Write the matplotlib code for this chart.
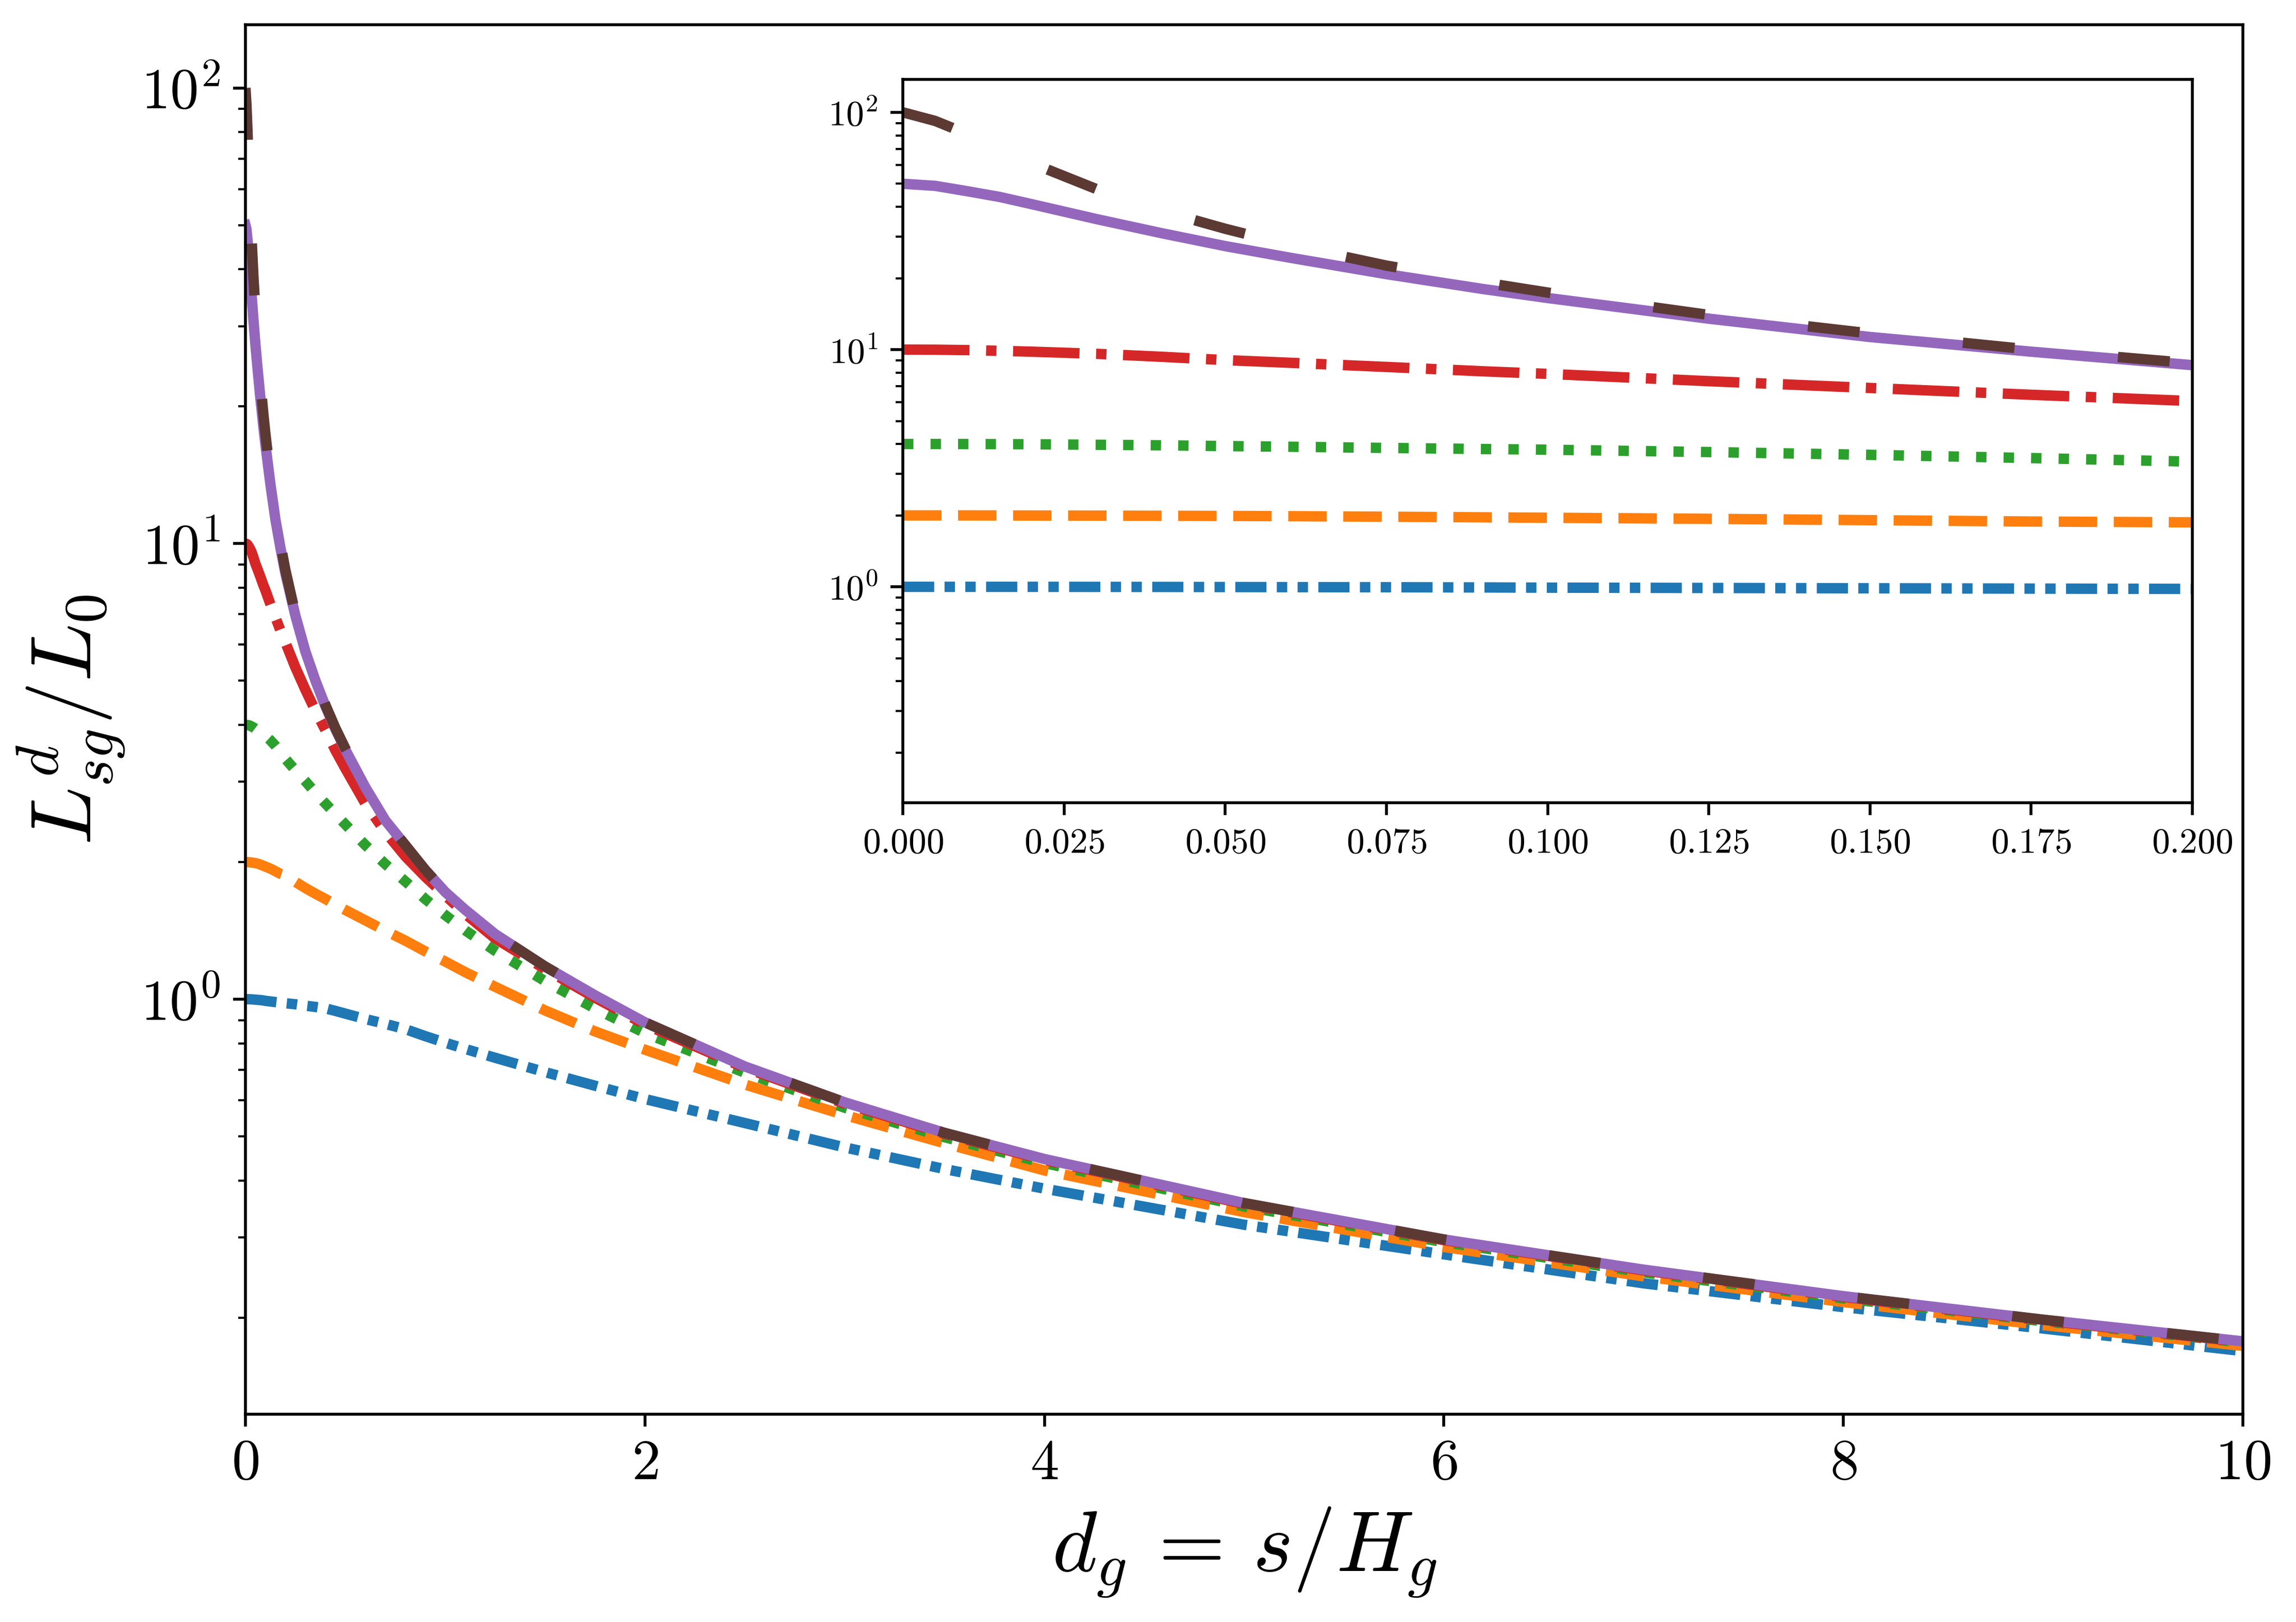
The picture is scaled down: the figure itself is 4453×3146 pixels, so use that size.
import matplotlib
matplotlib.use('agg')
import matplotlib.pyplot as plt

# values
d_g = [0.0, 0.005, 0.01, 0.015, 0.02, 0.03, 0.04, 0.05, 0.06, 0.075, 0.09, 0.1,
       0.125, 0.15, 0.175, 0.2, 0.25, 0.3, 0.35, 0.4, 0.45, 0.5, 0.6, 0.7, 0.8,
       0.9, 1.0, 1.1, 1.25, 1.5, 1.75, 2.0, 2.5, 3.0, 3.5, 4.0, 5.0, 6.0, 7.0,
       8.0, 9.0, 10.0]

L_1 = [1.0, 1.0, 1.0, 1.0, 1.0, 0.9995, 0.999, 0.998, 0.997, 0.996, 0.994, 0.992,
       0.989, 0.986, 0.983, 0.98, 0.975, 0.968, 0.962, 0.955, 0.943, 0.93, 0.905,
       0.883, 0.86, 0.83, 0.803, 0.778, 0.744, 0.692, 0.646, 0.604, 0.535, 0.473,
       0.424, 0.384, 0.32, 0.2755, 0.238, 0.211, 0.1894, 0.169]

L_2 = [2.0, 2.0, 2.0, 1.999, 1.998, 1.996, 1.993, 1.99, 1.985, 1.975, 1.963, 1.955,
       1.935, 1.91, 1.885, 1.87, 1.81, 1.754, 1.705, 1.66, 1.614, 1.57, 1.49,
       1.414, 1.345, 1.274, 1.21, 1.147, 1.065, 0.945, 0.85, 0.775, 0.65, 0.557,
       0.483, 0.421, 0.341, 0.286, 0.2465, 0.2165, 0.1927, 0.1735]

L_4 = [4.0, 4.0, 3.998, 3.995, 3.99, 3.97, 3.95, 3.92, 3.895, 3.85, 3.81, 3.785,
       3.70, 3.60, 3.49, 3.37, 3.18, 3.01, 2.84, 2.69, 2.55, 2.42, 2.18,
       1.98, 1.815, 1.66, 1.53, 1.417, 1.277, 1.096, 0.954, 0.843, 0.69, 0.578,
       0.498, 0.437, 0.351, 0.293, 0.2515, 0.2205, 0.1965, 0.1765]

L_10 = [10.0, 9.99, 9.95, 9.88, 9.8, 9.6, 9.33, 9.03, 8.8, 8.45, 8.1, 7.9,
        7.36, 6.89, 6.45, 6.07, 5.35, 4.78, 4.3, 3.9, 3.52, 3.21, 2.69,
        2.33, 2.06, 1.857, 1.69, 1.54, 1.36, 1.165, 1.008, 0.88, 0.707, 0.59,
        0.5065, 0.444, 0.3555, 0.296, 0.254, 0.2222, 0.1973, 0.177]

L_50 = [50.0, 49.0, 46.5, 44.0, 41.0, 35.5, 31.0, 27.3, 24.4, 20.8, 18.0, 16.5,
        13.5, 11.3, 9.8, 8.6, 6.95, 5.8, 5.01, 4.4, 3.92, 3.53, 2.92,
        2.47, 2.18, 1.923, 1.72, 1.572, 1.39, 1.18, 1.02, 0.89, 0.712, 0.594,
        0.509, 0.446, 0.357, 0.297, 0.255, 0.223, 0.198, 0.1775]

L_100 = [100.0, 92.0, 81.0, 70.0, 61.0, 47.5, 38.5, 32.3, 27.6, 22.6, 19.2, 17.4,
         14.0, 11.7, 10.0, 8.75, 7.0, 5.85, 5.05, 4.43, 3.94, 3.55, 2.92,
         2.47, 2.18, 1.923, 1.72, 1.572, 1.39, 1.18, 1.02, 0.89, 0.712, 0.594,
         0.509, 0.446, 0.357, 0.297, 0.255, 0.223, 0.198, 0.1775]

# style of each curve: colour, linestyle
curves = [
    (L_1, 'C0', (0, (3, 1, 1, 1, 1, 1))),
    (L_2, 'C1', '--'),
    (L_4, 'C2', ':'),
    (L_10, 'C3', '-.'),
    (L_50, 'C4', '-'),
    (L_100, '#5c3a33', (0, (5, 10))),
]

plt.rcParams['font.family'] = 'serif'
plt.rcParams['font.serif'] = ['cmr10']
plt.rcParams['mathtext.fontset'] = 'cm'
plt.rcParams['axes.formatter.use_mathtext'] = True

fig = plt.figure(figsize=(8.906, 6.292), dpi=500)

# main axes
ax = fig.add_axes([0.1069, 0.1281, 0.8700, 0.8566])
for vals, col, ls in curves:
    ax.plot(d_g, vals, color=col, linestyle=ls, linewidth=2.9)
ax.set_yscale('log')
ax.set_xlim(0, 10)
ax.tick_params(axis='both', labelsize=16)
ax.set_xlabel(r'$d_g\,=\,s/H_g$', fontsize=24)
ax.set_ylabel(r'$L^d_{sg}/L_0$', fontsize=24)

# inset zoom on small d_g
axin = fig.add_axes([0.3933, 0.5050, 0.5615, 0.4460])
for vals, col, ls in curves:
    axin.plot(d_g, vals, color=col, linestyle=ls, linewidth=2.9)
axin.set_yscale('log')
axin.set_xlim(0, 0.2)
axin.tick_params(axis='both', labelsize=10)

fig.savefig('out.png', dpi=500)
